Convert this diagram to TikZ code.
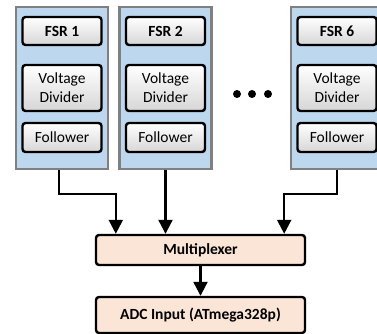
\documentclass[tikz,border=0pt]{standalone}
\usepackage{fontspec}
\setmainfont{Carlito}
\usetikzlibrary{arrows.meta}
\usetikzlibrary{calc,positioning}
\definecolor{panelblue}{RGB}{189,215,238}
\definecolor{panelgray}{RGB}{128,128,128}
\definecolor{muxpeach}{RGB}{251,229,214}
\newcommand{\partfont}{\fontsize{15.5}{19}\selectfont}

\begin{document}
\begin{tikzpicture}[x=1pt, y=-1pt,
    panel/.style={draw=panelgray, line width=2.2pt, fill=panelblue, minimum width=92pt, minimum height=162pt},
    part/.style={draw=black, line width=2.4pt, rounded corners=3pt, top color=white, bottom color=black!16, minimum width=79pt, align=center, font=\partfont},
    block/.style={draw=black, line width=2.4pt, rounded corners=3pt, fill=muxpeach, minimum width=209pt, font=\partfont\bfseries},
    conn/.style={line width=2.2pt, -{Triangle[length=14pt,width=14pt]}}]

    \useasboundingbox (0,0) rectangle (377,334);

    % sensor channels
    \foreach \n/\x in {1/62, 2/165.5, 6/337} {
        \node[panel] (p\n) at (\x,88) {};
        \node[part, minimum height=28pt, font=\partfont\bfseries] (fsr\n) at (\x,31) {FSR \n};
        \node[part, minimum height=46pt] (vd\n) at (\x,88) {Voltage\\Divider};
        \node[part, minimum height=29pt] (fol\n) at (\x,137.5) {Follower};
    }

    \foreach \x in {237,252,268}
        \fill (\x,94) circle (4pt);

    \node[block, minimum height=30pt] (mux) at (200.5,250) {Multiplexer};
    \node[block, minimum height=36pt] (adc) at (200.5,315) {ADC Input (ATmega328p)};

    \coordinate (in1) at ($(mux.north west)+(21,0)$);
    \coordinate (in6) at ($(mux.north east)+(-22,0)$);

    \draw[conn] (p1.south) ++(-3,0) -- ++(0,24) -| (in1);
    \draw[conn] (p2.south) -- (p2.south |- mux.north);
    \draw[conn] (p6.south) -- ++(0,24) -| (in6);
    \draw[conn] (mux) -- (adc);

\end{tikzpicture}
\end{document}
